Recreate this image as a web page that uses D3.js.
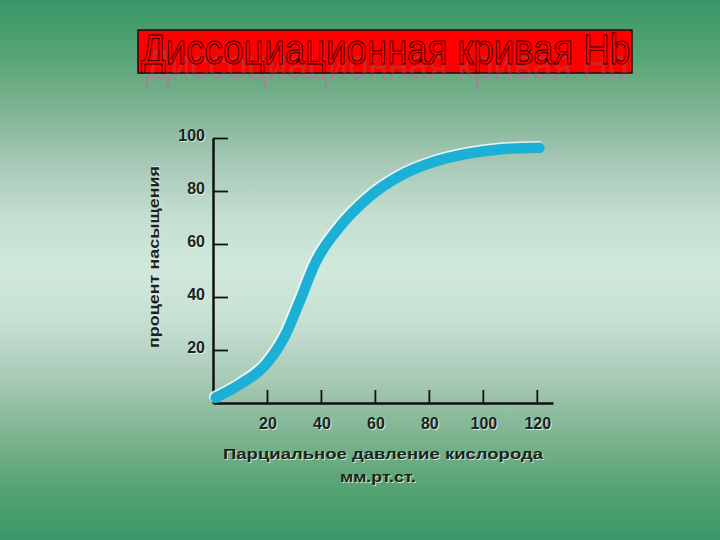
<!DOCTYPE html>
<html>
<head>
<meta charset="utf-8">
<script src="https://cdn.jsdelivr.net/npm/d3@7"></script>
<style>
  body { margin: 0; padding: 0; overflow: hidden; }
  svg { display: block; }
</style>
</head>
<body>
<svg id="chart" width="720" height="540"></svg>
<script>
// data
var pressure = [1, 10, 20, 27, 32, 38, 47, 57, 69, 82, 94, 106, 121]; // мм.рт.ст.
var saturation = [2, 7, 15, 26, 38, 53, 66.5, 77, 85.5, 91, 94, 95.7, 96.3]; // %
var xTicks = [20, 40, 60, 80, 100, 120];
var yTicks = [20, 40, 60, 80, 100];

var titleText = "Диссоциационная кривая Hb";
var xTitle = "Парциальное  давление  кислорода";
var xUnits = "мм.рт.ст.";
var yTitle = "процент  насыщения";

var svg = d3.select("#chart");
var font = "'Liberation Sans', Arial, sans-serif";

// background gradient
var defs = svg.append("defs");
var grad = defs.append("linearGradient")
  .attr("id", "bg")
  .attr("x1", 0).attr("y1", 0).attr("x2", 0).attr("y2", 1);
var stops = [
  [0, "#3a9667"], [0.1, "#55a474"], [0.2, "#7db391"], [0.3, "#a6c8b5"],
  [0.4, "#c3ded0"], [0.5, "#d0e9dc"], [0.6, "#c5dfd1"], [0.7, "#a9cab7"],
  [0.8, "#80b592"], [0.9, "#57a473"], [1, "#3b9868"]
];
grad.selectAll("stop").data(stops).enter().append("stop")
  .attr("offset", function(d) { return d[0]; })
  .attr("stop-color", function(d) { return d[1]; });
svg.append("rect").attr("width", 720).attr("height", 540).attr("fill", "url(#bg)");

defs.append("clipPath").attr("id", "boxclip")
  .append("rect").attr("x", 138).attr("y", 30).attr("width", 494).attr("height", 43);

// title box (grey shadow under the red text, shows below the box)
var title = svg.append("g");
title.append("text")
  .attr("x", 146).attr("y", 79)
  .attr("font-family", font).attr("font-size", 42)
  .attr("textLength", 482).attr("lengthAdjust", "spacingAndGlyphs")
  .attr("fill", "#8f8f8f")
  .text(titleText);
title.append("rect")
  .attr("x", 138).attr("y", 30).attr("width", 494).attr("height", 43)
  .attr("fill", "#ff0000").attr("stroke", "#111").attr("stroke-width", 1.5);
title.append("text")
  .attr("clip-path", "url(#boxclip)")
  .attr("x", 146).attr("y", 79)
  .attr("font-family", font).attr("font-size", 42)
  .attr("textLength", 482).attr("lengthAdjust", "spacingAndGlyphs")
  .attr("fill", "#b04545").attr("opacity", 0.5)
  .text(titleText);
title.append("text")
  .attr("x", 141).attr("y", 64)
  .attr("font-family", font).attr("font-size", 42)
  .attr("textLength", 489).attr("lengthAdjust", "spacingAndGlyphs")
  .attr("fill", "#ff0000").attr("stroke", "#1a0000").attr("stroke-width", 0.9)
  .text(titleText);

// scales
var x = d3.scaleLinear().domain([0, 126]).range([213, 553]);
var y = d3.scaleLinear().domain([0, 100]).range([403, 138]);

// axes
var yAxis = svg.append("g")
  .attr("transform", "translate(" + x(0) + ",0)")
  .call(d3.axisRight(y).tickValues(yTicks).tickSize(15).tickSizeOuter(0));
var xAxis = svg.append("g")
  .attr("transform", "translate(0," + y(0) + ")")
  .call(d3.axisTop(x).tickValues(xTicks).tickSize(13).tickSizeOuter(0));

[yAxis, xAxis].forEach(function(a) {
  a.select(".domain").attr("stroke", "#111").attr("stroke-width", 2.5);
  a.selectAll(".tick line").attr("stroke", "#111").attr("stroke-width", 1.8);
  a.selectAll(".tick text").remove();
});

function shadowText(g, px, py, txt, anchor, size, len) {
  var t1 = g.append("text")
    .attr("x", px + 1).attr("y", py + 1)
    .attr("text-anchor", anchor)
    .attr("font-family", font).attr("font-size", size).attr("font-weight", "bold")
    .attr("fill", "#e8f4ec").attr("opacity", 0.8)
    .text(txt);
  var t2 = g.append("text")
    .attr("x", px).attr("y", py)
    .attr("text-anchor", anchor)
    .attr("font-family", font).attr("font-size", size).attr("font-weight", "bold")
    .attr("fill", "#1c241f")
    .text(txt);
  if (len) {
    t1.attr("textLength", len).attr("lengthAdjust", "spacingAndGlyphs");
    t2.attr("textLength", len).attr("lengthAdjust", "spacingAndGlyphs");
  }
}

var labels = svg.append("g");
yTicks.forEach(function(v) {
  shadowText(labels, 205, y(v) + 3, v, "end", 16);
});
xTicks.forEach(function(v) {
  shadowText(labels, x(v) + 1, 429, v, "middle", 16);
});

shadowText(labels, 383, 459, xTitle, "middle", 15.5, 320);
shadowText(labels, 378, 482, xUnits, "middle", 15, 76);

var yt = svg.append("g").attr("transform", "translate(159,257) rotate(-90)");
shadowText(yt, 0, 0, yTitle, "middle", 15.5, 182);

// curve
var pts = pressure.map(function(p, i) { return [p, saturation[i]]; });
var line = d3.line()
  .x(function(d) { return x(d[0]); })
  .y(function(d) { return y(d[1]); })
  .curve(d3.curveMonotoneX);

svg.append("path")
  .datum(pts)
  .attr("d", line)
  .attr("transform", "translate(-1,-1)")
  .attr("fill", "none")
  .attr("stroke", "#f2fbff").attr("stroke-width", 11.5)
  .attr("stroke-linecap", "round").attr("opacity", 0.85);
svg.append("path")
  .datum(pts)
  .attr("d", line)
  .attr("fill", "none")
  .attr("stroke", "#1cb0d6").attr("stroke-width", 10.5)
  .attr("stroke-linecap", "round");
</script>
</body>
</html>
